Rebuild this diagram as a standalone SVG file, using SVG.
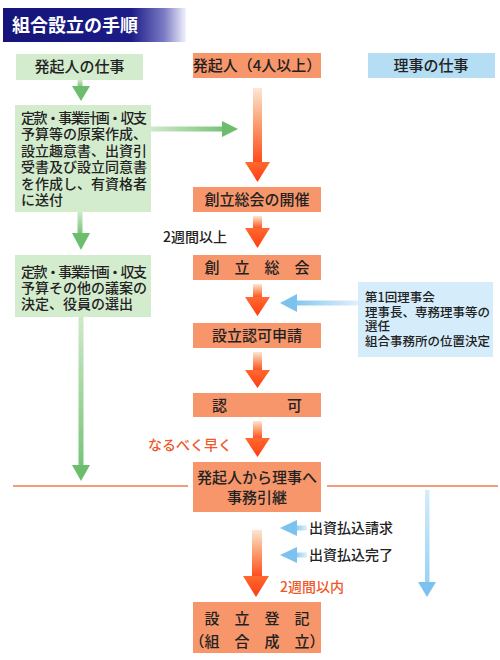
<svg xmlns="http://www.w3.org/2000/svg" width="500" height="660" viewBox="0 0 500 660">
<defs>
<linearGradient id="title" x1="0" y1="0" x2="1" y2="0">
<stop offset="0" stop-color="#14147a"/><stop offset="0.7" stop-color="#1c1c88"/><stop offset="0.88" stop-color="#7b7bc4"/><stop offset="1" stop-color="#f2f2ff"/>
</linearGradient>
<linearGradient id="oshaft" x1="0" y1="0" x2="0" y2="1">
<stop offset="0" stop-color="#fde6d4"/><stop offset="0.5" stop-color="#fb9a6a"/><stop offset="1" stop-color="#ff4a1c"/>
</linearGradient>
<linearGradient id="ohead" x1="0" y1="0" x2="0" y2="1">
<stop offset="0" stop-color="#ff6a30"/><stop offset="1" stop-color="#ff3a12"/>
</linearGradient>
<linearGradient id="gshaftv" x1="0" y1="0" x2="0" y2="1">
<stop offset="0" stop-color="#cfe9c9"/><stop offset="1" stop-color="#78c478"/>
</linearGradient>
<linearGradient id="gshafth" x1="0" y1="0" x2="1" y2="0">
<stop offset="0" stop-color="#cfe9c9"/><stop offset="1" stop-color="#78c478"/>
</linearGradient>
<linearGradient id="bshafth" x1="1" y1="0" x2="0" y2="0">
<stop offset="0" stop-color="#dff0fb"/><stop offset="1" stop-color="#86c8f0"/>
</linearGradient>
<linearGradient id="bshaftv" x1="0" y1="0" x2="0" y2="1">
<stop offset="0" stop-color="#d4ecfa"/><stop offset="1" stop-color="#9ad2f4"/>
</linearGradient>
</defs>
<style>
text{font-family:"Noto Sans CJK JP","Noto Sans CJK SC",sans-serif;fill:#222;font-weight:500;}
.ob{fill:#f7966a;}
.gb{fill:#d4ecce;}
.bh{fill:#b5def5;}
.bb{fill:#d5edfa;}
.t15{font-size:15px;}
.t14{font-size:14px;}
.t13{font-size:12.5px;}
.c{text-anchor:middle;}
.gh{fill:#6cbd6c;}
.bhd{fill:#7cc2ee;}
.oh{fill:url(#ohead);}
.os{fill:url(#oshaft);}
</style>
<g id="title-bar">
<rect x="3" y="8" width="183" height="34" fill="url(#title)"/>
<text x="12" y="32" font-size="18" style="fill:#ffffff;font-weight:bold">組合設立の手順</text>
</g>
<g id="connectors">
<line x1="13" y1="486" x2="188" y2="486" stroke="#f07a50" stroke-width="1.6"/>
<line x1="327" y1="486" x2="498" y2="486" stroke="#f07a50" stroke-width="1.6"/>
<rect x="77.5" y="80" width="5" height="7" fill="url(#gshaftv)"/>
<polygon class="gh" points="72,86 90,86 81,101"/>
<rect x="151" y="126.5" width="72" height="5" fill="url(#gshafth)"/>
<polygon class="gh" points="222,121 238,129 222,137"/>
<rect x="77.5" y="212" width="5" height="22" fill="url(#gshaftv)"/>
<polygon class="gh" points="72,233 90,233 81,250"/>
<rect x="78.5" y="317" width="5" height="149" fill="url(#gshaftv)"/>
<polygon class="gh" points="72,465 90,465 81,481"/>
<rect class="os" x="253" y="88" width="9" height="75"/>
<polygon class="oh" points="245,162 270,162 257.5,182"/>
<rect class="os" x="253" y="216" width="9" height="13"/>
<polygon class="oh" points="245,228 270,228 257.5,248"/>
<rect class="os" x="253" y="284" width="9" height="14"/>
<polygon class="oh" points="245,297 270,297 257.5,316"/>
<rect class="os" x="253" y="352" width="9" height="19"/>
<polygon class="oh" points="245,370 270,370 257.5,388"/>
<rect class="os" x="253" y="421" width="9" height="18"/>
<polygon class="oh" points="245,438 270,438 257.5,457"/>
<rect class="os" x="252" y="530" width="10" height="47"/>
<polygon class="oh" points="243,576 269,576 256,597"/>
<rect x="296" y="300.5" width="62" height="5" fill="url(#bshafth)"/>
<polygon class="bhd" points="280,303 297,294 297,312"/>
<rect x="295" y="525.5" width="12" height="5" fill="url(#bshafth)"/>
<polygon class="bhd" points="280,528 297,520 297,536"/>
<rect x="295" y="552.5" width="12" height="5" fill="url(#bshafth)"/>
<polygon class="bhd" points="280,555 297,547 297,563"/>
<rect x="425" y="490" width="4.5" height="93" fill="url(#bshaftv)"/>
<polygon class="bhd" points="418,582 436,582 427,597"/>
</g>
<g id="label-2w1"><text class="t14" x="163" y="242">2週間以上</text></g>
<g id="label-early"><text class="t14" x="148" y="450" style="fill:#f0582a">なるべく早く</text></g>
<g id="label-2w2"><text class="t14" x="280" y="592" style="fill:#f0582a">2週間以内</text></g>
<g id="label-req"><text class="t14" x="309" y="533">出資払込請求</text></g>
<g id="label-done"><text class="t14" x="309" y="560">出資払込完了</text></g>
<g id="hdr-promoter-work">
<rect class="gb" x="16" y="54" width="127" height="26"/>
<text class="t15 c" x="79.5" y="72">発起人の仕事</text>
</g>
<g id="hdr-promoter">
<rect class="ob" x="193" y="53" width="128" height="25"/>
<text class="t15 c" x="257" y="71">発起人（4人以上）</text>
</g>
<g id="hdr-director-work">
<rect class="bh" x="368" y="53" width="127" height="25"/>
<text class="t15 c" x="431" y="71">理事の仕事</text>
</g>
<g id="left-box-1">
<rect class="gb" x="15" y="105" width="136" height="107"/>
<text class="t14"><tspan x="21" y="123" textLength="126" lengthAdjust="spacing">定款・事業計画・収支</tspan><tspan x="21" y="139">予算等の原案作成、</tspan><tspan x="21" y="155.5">設立趣意書、出資引</tspan><tspan x="21" y="172">受書及び設立同意書</tspan><tspan x="21" y="188.5" textLength="126" lengthAdjust="spacing">を作成し、有資格者</tspan><tspan x="21" y="205">に送付</tspan></text>
</g>
<g id="left-box-2">
<rect class="gb" x="15" y="255" width="136" height="62"/>
<text class="t14"><tspan x="21" y="277" textLength="126" lengthAdjust="spacing">定款・事業計画・収支</tspan><tspan x="21" y="293">予算その他の議案の</tspan><tspan x="21" y="308.5">決定、役員の選出</tspan></text>
</g>
<g id="n-meeting-call">
<rect class="ob" x="193" y="187" width="128" height="25"/>
<text class="t15 c" x="257" y="205">創立総会の開催</text>
</g>
<g id="n-meeting">
<rect class="ob" x="193" y="255" width="128" height="25"/>
<text class="t15 c" x="257" y="273">創　立　総　会</text>
</g>
<g id="n-apply">
<rect class="ob" x="193" y="323" width="128" height="25"/>
<text class="t15 c" x="257" y="341">設立認可申請</text>
</g>
<g id="n-approve">
<rect class="ob" x="193" y="393" width="128" height="24"/>
<text class="t15 c" x="257" y="410.5">認　　　　可</text>
</g>
<g id="n-handover">
<rect class="ob" x="193" y="462" width="128" height="50"/>
<text class="t15 c"><tspan x="257" y="483">発起人から理事へ</tspan><tspan x="257" y="503">事務引継</tspan></text>
</g>
<g id="n-register">
<rect class="ob" x="193" y="602" width="128" height="51"/>
<text class="t15 c"><tspan x="257" y="623.5">設　立　登　記</tspan><tspan x="257" y="647">（組　合　成　立）</tspan></text>
</g>
<g id="n-board">
<rect class="bb" x="358" y="282" width="135" height="75"/>
<text class="t13"><tspan x="365" y="301.5">第1回理事会</tspan><tspan x="365" y="316.5">理事長、専務理事等の</tspan><tspan x="365" y="331">選任</tspan><tspan x="365" y="345.5">組合事務所の位置決定</tspan></text>
</g>
</svg>
